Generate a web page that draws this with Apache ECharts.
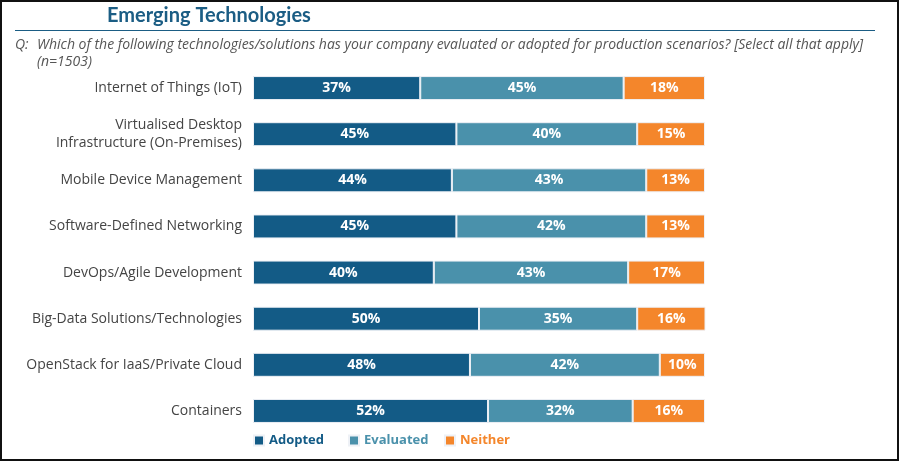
<!DOCTYPE html>
<html><head><meta charset="utf-8">
<script src="https://cdn.jsdelivr.net/npm/echarts@6/dist/echarts.min.js"></script>
<style>html,body{margin:0;padding:0;background:#fff}#c{width:899px;height:461px}</style>
</head><body><div id="c"></div>
<script>
const categories = ["Internet of Things (IoT)","Virtualised Desktop\nInfrastructure (On-Premises)","Mobile Device Management","Software-Defined Networking","DevOps/Agile Development","Big-Data Solutions/Technologies","OpenStack for IaaS/Private Cloud","Containers"];
const adopted = [37,45,44,45,40,50,48,52];
const evaluated = [45,40,43,42,43,35,42,32];
const neither = [18,15,13,13,17,16,10,16];
const seriesNames = ["Adopted","Evaluated","Neither"];
const colors = ["#135b86","#4a91ab","#f4862b"];
const legendLefts = [248, 343, 439];

const chart = echarts.init(document.getElementById('c'));
const mk = (name, data, i) => ({
  name, type:'bar', stack:'s', data, barWidth:24,
  itemStyle:{color:colors[i], borderColor:'#eef1f6', borderWidth:1},
  label:{show:true, position:'inside', formatter:'{c}%', color:'#fff', fontWeight:'bold', fontSize:14, fontFamily:'Open Sans'}
});
chart.setOption({
  animation:false,
  title:[{text:'Emerging Technologies', left:102, top:1, textStyle:{color:'#1b5d84', fontSize:20, fontWeight:'bold', fontFamily:'Lato'}}],
  graphic:[
    {type:'rect', shape:{x:1,y:1,width:897,height:459}, style:{fill:'none', stroke:'#111', lineWidth:2}},
    {type:'line', shape:{x1:15,y1:30.5,x2:875,y2:30.5}, style:{stroke:'#1b5d84', lineWidth:1.2}},
    {type:'text', x:15, y:45, style:{text:'Q:', fill:'#555', font:'italic 14px "Open Sans"', verticalAlign:'middle'}},
    {type:'text', x:37, y:45, style:{text:'Which of the following technologies/solutions has your company evaluated or adopted for production scenarios? [Select all that apply]', fill:'#555', font:'italic 14px "Open Sans"', verticalAlign:'middle'}},
    {type:'text', x:37, y:62, style:{text:'(n=1503)', fill:'#555', font:'italic 14px "Open Sans"', verticalAlign:'middle'}}
  ],
  legend: seriesNames.map((n,i)=>({left:legendLefts[i], top:429, itemWidth:10, itemHeight:10, icon:'rect',
    data:[{name:n}], textStyle:{color:colors[i], fontSize:13, fontWeight:'bold', fontFamily:'Open Sans'}})),
  grid:{left:253, right:194, top:65, bottom:27, containLabel:false},
  xAxis:{type:'value', min:0, max:100, show:false},
  yAxis:{type:'category', data:categories, inverse:true, axisLine:{show:false}, axisTick:{show:false},
    axisLabel:{color:'#444', fontSize:14, fontFamily:'Open Sans', fontWeight:500, margin:11, lineHeight:18}},
  series:[mk(seriesNames[0],adopted,0), mk(seriesNames[1],evaluated,1), mk(seriesNames[2],neither,2)]
});
</script></body></html>
